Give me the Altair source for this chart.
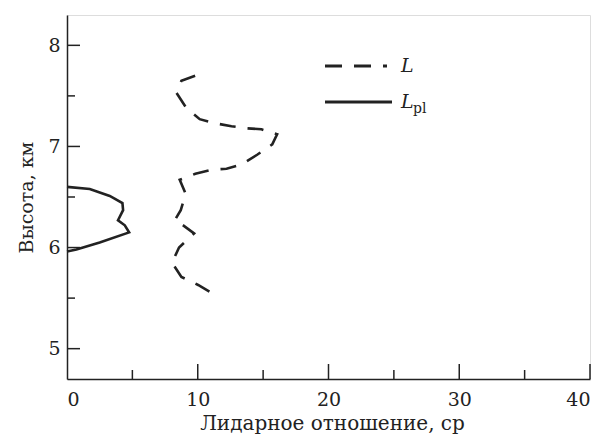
import altair as alt
import pandas as pd

# Lidar ratio L (dashed)
L_x = [9.8, 8.75, 8.37, 9.13, 10.15, 11.3, 12.58, 13.7, 14.87, 16.07, 15.7, 14.57,
       13.34, 12.2, 11.05, 9.82, 8.62, 9.08, 8.7, 8.24, 8.57, 9.72, 8.57, 8.03,
       8.75, 10.03, 11.23]
L_y = [7.70, 7.65, 7.53, 7.38, 7.27, 7.23, 7.20, 7.18, 7.17, 7.12, 7.02, 6.92,
       6.82, 6.78, 6.77, 6.73, 6.67, 6.53, 6.37, 6.27, 6.25, 6.14, 6.00, 5.85,
       5.71, 5.63, 5.54]
# Lidar ratio L_pl (solid)
Lpl_x = [0.0, 1.74, 3.27, 4.24, 4.29, 3.9, 4.42, 4.75, 2.5, 0.72, 0.0]
Lpl_y = [6.60, 6.58, 6.51, 6.44, 6.37, 6.27, 6.22, 6.15, 6.05, 5.98, 5.96]

x_major = [10, 20, 30, 40]
x_minor = [5, 15, 25, 35]
y_major = [5, 6, 7, 8]
y_minor = [5.5, 6.5, 7.5]
x_labels = [0, 10, 20, 30, 40]

W, H = 523, 364
FONT = "DejaVu Serif"

dfL = pd.DataFrame({"x": L_x, "y": L_y, "o": range(len(L_x))})
dfP = pd.DataFrame({"x": Lpl_x, "y": Lpl_y, "o": range(len(Lpl_x))})

xs = alt.Scale(domain=[0, 40], nice=False, zero=False)
ys = alt.Scale(domain=[4.7, 8.3], nice=False, zero=False)

xaxis = alt.Axis(values=x_labels, format="d", ticks=False, grid=False, labelFont=FONT,
                 labelFontSize=19, labelColor="#222", labelPadding=11,
                 domainColor="#222", domainWidth=1.5,
                 title="Лидарное отношение, ср", titleFont=FONT,
                 titleFontSize=20, titleFontWeight="normal", titleColor="#222",
                 titleX=265, titleY=50, titleBaseline="alphabetic")
yaxis = alt.Axis(values=y_major, format="d", ticks=False, grid=False, labelFont=FONT,
                 labelFontSize=19, labelColor="#222", labelPadding=7,
                 domainColor="#222", domainWidth=1.5,
                 title="Высота, км", titleFont=FONT, titleFontSize=19,
                 titleFontWeight="normal", titleColor="#222",
                 titleX=-41, titleY=H / 2, titleAngle=-90,
                 titleBaseline="middle", titleAlign="center")

lineL = alt.Chart(dfL).mark_line(color="#222", strokeWidth=2.6,
                                 strokeDash=[16, 12]).encode(
    x=alt.X("x:Q", scale=xs, axis=xaxis),
    y=alt.Y("y:Q", scale=ys, axis=yaxis),
    order="o:Q",
)
lineP = alt.Chart(dfP).mark_line(color="#222", strokeWidth=2.6).encode(
    x=alt.X("x:Q", scale=xs),
    y=alt.Y("y:Q", scale=ys),
    order="o:Q",
)

xt_major = alt.Chart(pd.DataFrame({"v": x_major})).mark_rule(color="#222", strokeWidth=1.5).encode(
    x=alt.X("v:Q", scale=xs), y=alt.value(H), y2=alt.value(H - 15))
xt_minor = alt.Chart(pd.DataFrame({"v": x_minor})).mark_rule(color="#222", strokeWidth=1.5).encode(
    x=alt.X("v:Q", scale=xs), y=alt.value(H), y2=alt.value(H - 9))
yt_major = alt.Chart(pd.DataFrame({"v": y_major})).mark_rule(color="#222", strokeWidth=1.5).encode(
    y=alt.Y("v:Q", scale=ys), x=alt.value(0), x2=alt.value(13))
yt_minor = alt.Chart(pd.DataFrame({"v": y_minor})).mark_rule(color="#222", strokeWidth=1.5).encode(
    y=alt.Y("v:Q", scale=ys), x=alt.value(0), x2=alt.value(8))

# legend
leg_dash = alt.Chart(pd.DataFrame({"a": [0]})).mark_rule(
    color="#222", strokeWidth=3, strokeDash=[17, 12, 17, 12, 4, 200]).encode(
    x=alt.value(258), x2=alt.value(325), y=alt.value(51))
leg_solid = alt.Chart(pd.DataFrame({"a": [0]})).mark_rule(
    color="#222", strokeWidth=3).encode(
    x=alt.value(258), x2=alt.value(325), y=alt.value(87))
leg_L1 = alt.Chart(pd.DataFrame({"t": ["L"]})).mark_text(
    font=FONT, fontSize=19, fontStyle="italic", align="left", baseline="middle",
    color="#222").encode(text="t:N", x=alt.value(334), y=alt.value(51))
leg_L2 = alt.Chart(pd.DataFrame({"t": ["L"]})).mark_text(
    font=FONT, fontSize=19, fontStyle="italic", align="left", baseline="middle",
    color="#222").encode(text="t:N", x=alt.value(334), y=alt.value(87))
leg_pl = alt.Chart(pd.DataFrame({"t": ["pl"]})).mark_text(
    font=FONT, fontSize=14, align="left", baseline="middle",
    color="#222").encode(text="t:N", x=alt.value(346), y=alt.value(94))

chart = alt.layer(lineL, lineP, xt_major, xt_minor, yt_major, yt_minor,
                  leg_dash, leg_solid, leg_L1, leg_L2, leg_pl).properties(
    width=W, height=H,
    autosize=alt.AutoSizeParams(type="none"),
    padding={"left": 59, "top": 7, "right": 3, "bottom": 56},
).configure_view(stroke=None).configure(background="white")

chart.save("out.html", embed_options={"renderer": "svg", "actions": False})
